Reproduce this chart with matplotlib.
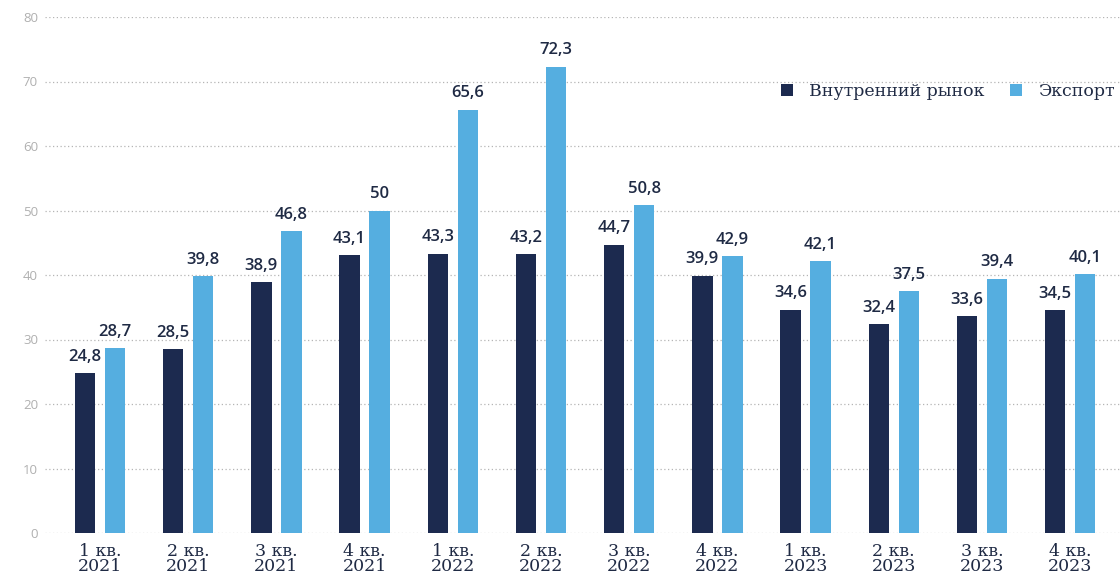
import matplotlib
matplotlib.use('Agg')
import matplotlib.pyplot as plt
import numpy as np

# данные: квартальные значения
quarters = ['1 кв.\n2021', '2 кв.\n2021', '3 кв.\n2021', '4 кв.\n2021',
            '1 кв.\n2022', '2 кв.\n2022', '3 кв.\n2022', '4 кв.\n2022',
            '1 кв.\n2023', '2 кв.\n2023', '3 кв.\n2023', '4 кв.\n2023']
domestic = [24.8, 28.5, 38.9, 43.1, 43.3, 43.2, 44.7, 39.9, 34.6, 32.4, 33.6, 34.5]
export = [28.7, 39.8, 46.8, 50, 65.6, 72.3, 50.8, 42.9, 42.1, 37.5, 39.4, 40.1]

dark = '#1c2a4f'
light = '#55aee0'
txt = '#1f2a44'

fig = plt.figure(figsize=(11.2, 5.74), dpi=100)
ax = fig.add_axes([45 / 1120, 41 / 574, 1 - 45 / 1120, 516 / 574])

x = np.arange(len(quarters))
w = 0.23
off = 0.17
b1 = ax.bar(x - off, domestic, w, color=dark, label='Внутренний рынок', zorder=3)
b2 = ax.bar(x + off, export, w, color=light, label='Экспорт', zorder=3)

def fmt(v):
    s = ('%.1f' % v).replace('.', ',')
    return s[:-2] if s.endswith(',0') else s

for bars, vals in [(b1, domestic), (b2, export)]:
    for r, v in zip(bars, vals):
        ax.text(r.get_x() + r.get_width() / 2, v + 1.3, fmt(v), ha='center', va='bottom',
                fontsize=12, family='Open Sans', weight='semibold', color=txt)

ax.set_xlim(-0.624, 11.565)
ax.set_ylim(0, 80)
ax.set_yticks(range(0, 81, 10))
ax.grid(axis='y', linestyle=(0, (1, 2)), color='#b5b5b5', linewidth=0.9, zorder=0)
ax.set_axisbelow(True)
for s in ax.spines.values():
    s.set_visible(False)
ax.tick_params(axis='y', length=0, pad=5, labelsize=9.5, labelcolor='#b0b0b0')
ax.tick_params(axis='x', length=0, pad=7)
ax.set_xticks(x)
ax.set_xticklabels(quarters, fontsize=12.5, family='DejaVu Serif', color=txt, linespacing=0.9)
for lab in ax.get_yticklabels():
    lab.set_family('Open Sans')

leg = ax.legend(loc='center right', bbox_to_anchor=(0.995, 0.855), ncol=2, frameon=False,
                borderpad=0, borderaxespad=0,
                handlelength=0.7, handleheight=0.7, handletextpad=0.9, columnspacing=1.5,
                prop={'family': 'DejaVu Serif', 'size': 12.5})
for t in leg.get_texts():
    t.set_color(txt)

fig.savefig('out.png', dpi=100)
